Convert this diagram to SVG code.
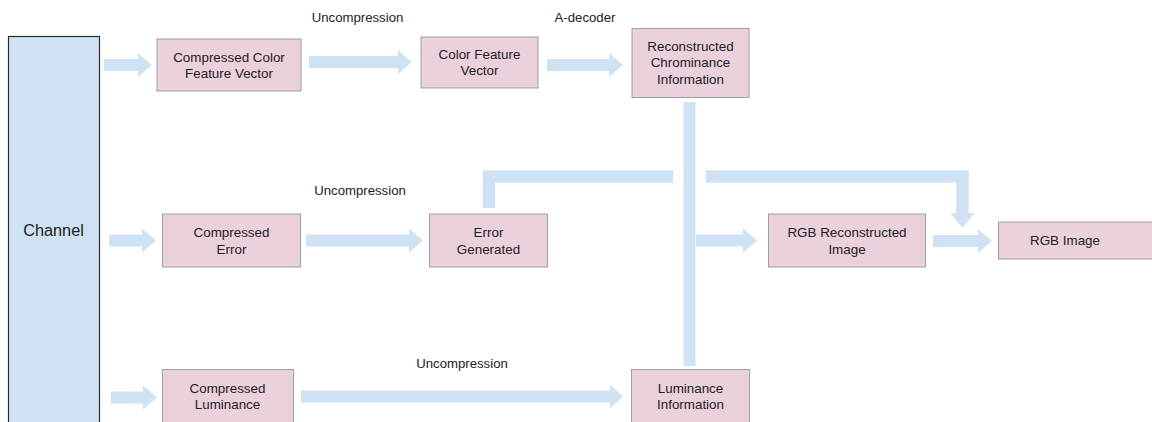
<svg xmlns="http://www.w3.org/2000/svg" width="1152" height="422" viewBox="0 0 1152 422">
<style>
.box{fill:#ead1dc;stroke:#9e9e9e;stroke-width:1}
.chan{fill:#cfe2f3;stroke:#2b2b2b;stroke-width:1.2}
.t{font-family:"Liberation Sans",Arial,sans-serif;font-size:13.4px;fill:#222;text-anchor:middle}
.lbl{font-family:"Liberation Sans",Arial,sans-serif;font-size:13.2px;fill:#222;text-anchor:middle}
.arr{fill:#cfe2f3}
.line{fill:none;stroke:#cfe2f3;stroke-width:12.5;stroke-linejoin:miter;stroke-linecap:butt}
</style>
<rect width="1152" height="422" fill="#ffffff"/>
<g id="connectors">
<polygon class="arr" points="104,59 138,59 138,53 152,65 138,77 138,71 104,71"/>
<polygon class="arr" points="309,56 398,56 398,50 412,62 398,74 398,68 309,68"/>
<polygon class="arr" points="547,59 609,59 609,53 623,65 609,77 609,71 547,71"/>
<polygon class="arr" points="109,234.5 142,234.5 142,228.5 156,240.5 142,252.5 142,246.5 109,246.5"/>
<polygon class="arr" points="306,234.5 409,234.5 409,228.5 423,240.5 409,252.5 409,246.5 306,246.5"/>
<polygon class="arr" points="696,234.5 743,234.5 743,228.5 757,240.5 743,252.5 743,246.5 696,246.5"/>
<polygon class="arr" points="933,235 978,235 978,229 992,241 978,253 978,247 933,247"/>
<polygon class="arr" points="111,391.5 143,391.5 143,385.5 157,397.5 143,409.5 143,403.5 111,403.5"/>
<polygon class="arr" points="301,390.5 610,390.5 610,384.5 623,396.5 610,408.5 610,402.5 301,402.5"/>
<rect class="arr" x="683.5" y="102" width="12" height="264"/>
<path class="line" d="M489,208 V176.5 H673"/>
<path class="line" d="M706,176.5 H962.5 V214"/>
<polygon class="arr" points="950.5,213 974.5,213 962.5,228"/>
</g>
<g id="labels">
<text class="lbl" x="357.5" y="22">Uncompression</text>
<text class="lbl" x="585" y="22">A-decoder</text>
<text class="lbl" x="360" y="195">Uncompression</text>
<text class="lbl" x="462" y="368">Uncompression</text>
</g>
<g id="channel">
<rect class="chan" x="8.5" y="36.5" width="91" height="390"/>
<text class="t" x="53.5" y="235.5" style="font-size:16.3px">Channel</text>
</g>
<g id="compressed-color-feature-vector">
<rect class="box" x="157" y="39" width="144" height="52"/>
<text class="t" x="229" y="61.5">Compressed Color</text>
<text class="t" x="229" y="77.5">Feature Vector</text>
</g>
<g id="color-feature-vector">
<rect class="box" x="421" y="37" width="117" height="51"/>
<text class="t" x="479.5" y="58.5">Color Feature</text>
<text class="t" x="479.5" y="74.5">Vector</text>
</g>
<g id="reconstructed-chrominance">
<rect class="box" x="632" y="28.5" width="117" height="69"/>
<text class="t" x="690.5" y="50.5">Reconstructed</text>
<text class="t" x="690.5" y="67">Chrominance</text>
<text class="t" x="690.5" y="83.5">Information</text>
</g>
<g id="compressed-error">
<rect class="box" x="162.5" y="214" width="138" height="53"/>
<text class="t" x="231.5" y="237">Compressed</text>
<text class="t" x="231.5" y="253.5">Error</text>
</g>
<g id="error-generated">
<rect class="box" x="429.5" y="214" width="118" height="53"/>
<text class="t" x="488.5" y="237">Error</text>
<text class="t" x="488.5" y="253.5">Generated</text>
</g>
<g id="rgb-reconstructed-image">
<rect class="box" x="768.5" y="214" width="157" height="53"/>
<text class="t" x="847" y="237">RGB Reconstructed</text>
<text class="t" x="847" y="253.5">Image</text>
</g>
<g id="rgb-image">
<rect class="box" x="998.5" y="222" width="160" height="37"/>
<text class="t" x="1065" y="245">RGB Image</text>
</g>
<g id="compressed-luminance">
<rect class="box" x="162.5" y="369.5" width="131" height="56"/>
<text class="t" x="227.5" y="392.5">Compressed</text>
<text class="t" x="227.5" y="409">Luminance</text>
</g>
<g id="luminance-information">
<rect class="box" x="631.5" y="369.5" width="118" height="56"/>
<text class="t" x="690.5" y="392.5">Luminance</text>
<text class="t" x="690.5" y="409">Information</text>
</g>
</svg>
